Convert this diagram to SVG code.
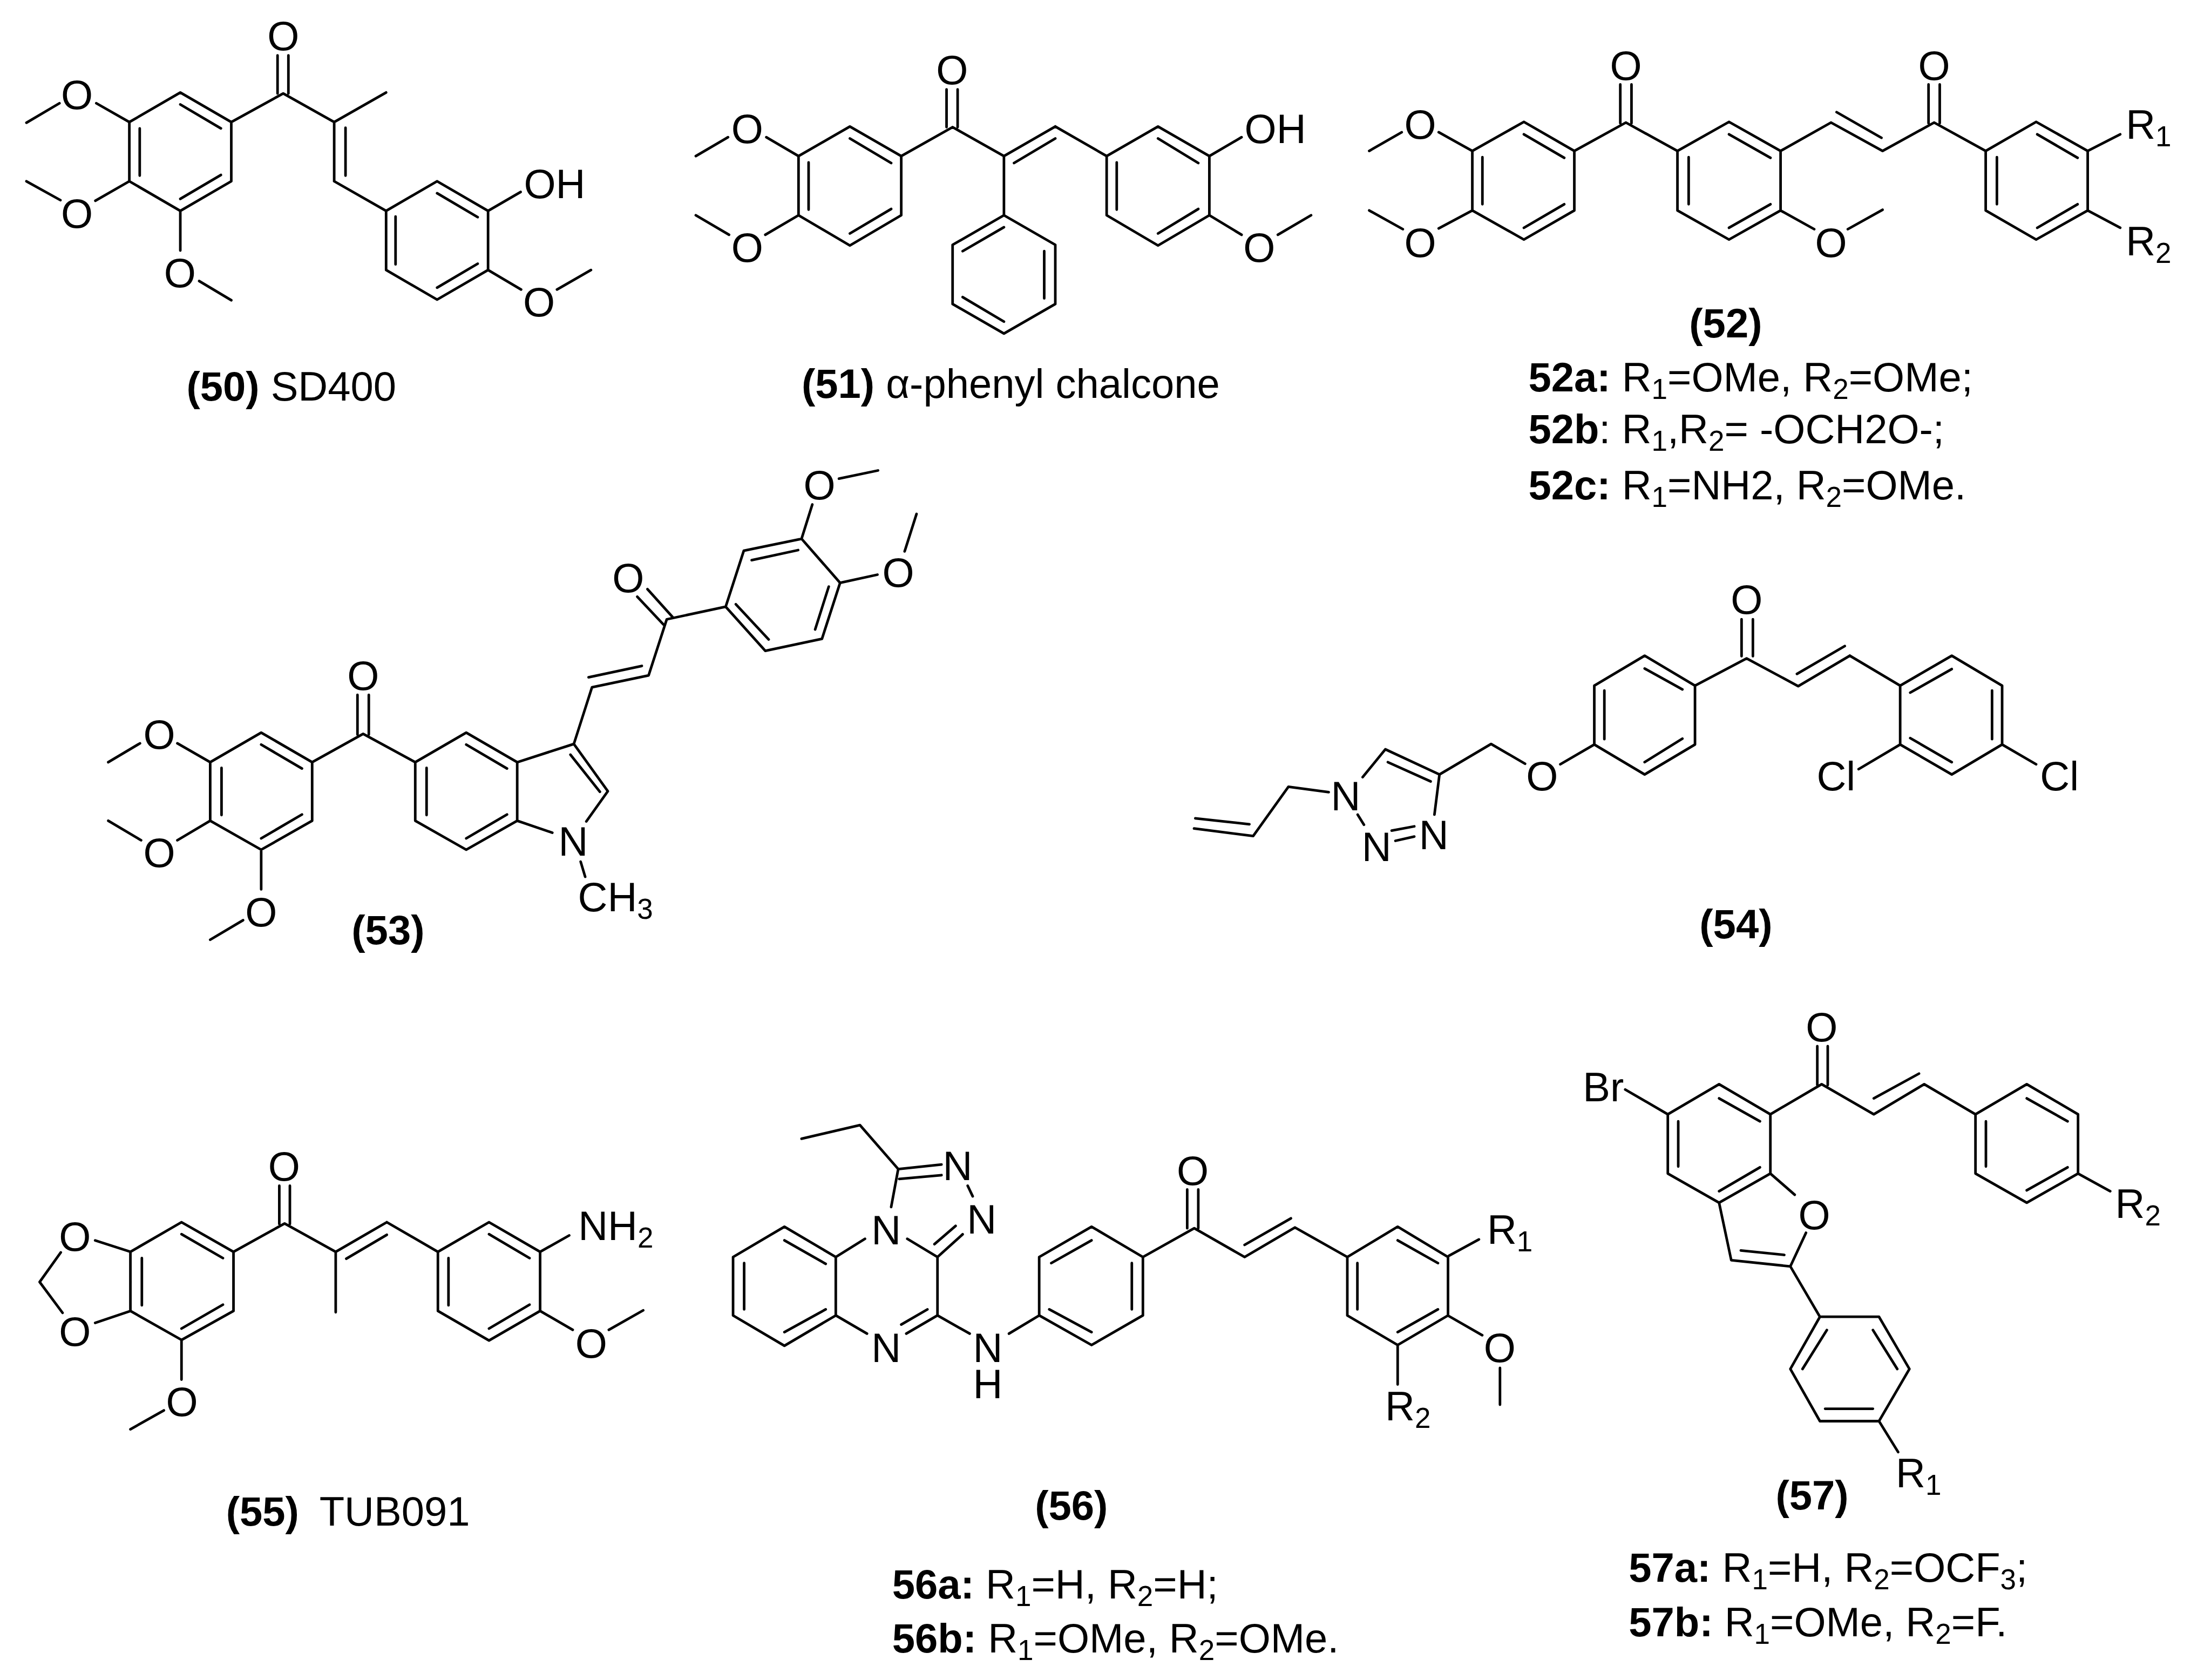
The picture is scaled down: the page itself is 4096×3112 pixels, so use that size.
<svg xmlns="http://www.w3.org/2000/svg" width="4096" height="3112" viewBox="0 0 4096 3112">
<style>
.bonds path{fill:none;stroke:#000;stroke-width:4.8;stroke-linecap:round;stroke-linejoin:round;vector-effect:non-scaling-stroke}
text{font-family:"Liberation Sans",Arial,sans-serif;font-size:76px;fill:#000}
.m{text-anchor:middle}
.bd{font-weight:bold}
.s{font-size:53px}
</style>
<rect width="4096" height="3112" fill="#fff"/>

<g id="compound-50">
<g class="bonds" transform="matrix(.87444 0 0 .58296 0 0)"><path d="M382 294L490 388L490 576L382 670L274 576L274 388ZM382 332L468 408M468 556L382 632M296 408L296 558M490 388L600 297L708 388M588 176L588 297M611 176L611 297M708 388L818 294M708 388L708 576M732 406L732 558M708 576L818 670M818 670L926 576L1034 670L1034 858L926 952L818 858ZM926 614L1012 690M1012 838L926 914M838 688L838 840M1034 670L1103 610M1034 858L1104 920M1180 920L1252 858M274 388L204 328M126 328L56 390M274 576L202 638M128 636L56 576M382 670L382 796M422 893L490 954"/></g>
<text class="m" x="524.7" y="92.5">O</text>
<text class="m" x="142.5" y="202">O</text>
<text class="m" x="142.5" y="422">O</text>
<text class="m" x="333.2" y="531.5">O</text>
<text x="970.4" y="367">OH</text>
<text class="m" x="998.6" y="585.5">O</text>
<text x="345.4" y="741.5"><tspan class="bd">(50)</tspan> SD400</text>
</g>

<g id="compound-51">
<g class="bonds" transform="matrix(.93273 0 0 .58296 1188.3 0)"><path d="M414 402L516 496L516 684L414 780L312 684L312 496ZM414 440L496 518M496 664L414 742M332 516L332 666M516 496L618 404L720 496M606 284L606 404M628 284L628 404M720 496L822 402M740 518L822 440M822 402L924 496M720 496L720 684M720 684L822 778L822 966L720 1060L618 966L618 778ZM720 722L638 798M800 798L800 948M638 944L720 1022M924 496L1026 402L1128 496L1128 684L1026 780L924 684ZM1026 440L1106 518M1106 664L1026 742M944 516L944 666M1128 496L1192 436M1128 684L1192 746M1264 746L1330 684M312 496L248 436M172 436L108 496M312 684L246 746M174 746L108 684"/></g>
<text class="m" x="1763.8" y="155.5">O</text>
<text class="m" x="1384.2" y="265">O</text>
<text class="m" x="1384.2" y="484.5">O</text>
<text x="2305.6" y="265">OH</text>
<text class="m" x="2332.8" y="484.5">O</text>
<text x="1484.9" y="737.4"><tspan class="bd">(51)</tspan> α-phenyl chalcone</text>
</g>

<g id="compound-52">
<g class="bonds" transform="matrix(1.03826 0 0 .64126 2468 0)"><path d="M342 352L432 436L432 608L342 692L250 608L250 436ZM342 388L414 456M414 590L342 658M268 454L268 590M250 436L190 382M124 382L66 436M250 608L190 660M126 662L66 608M432 436L524 354L616 436M514 244L514 356M534 244L534 356M616 436L708 352L800 436L800 608L708 692L616 608ZM708 388L782 456M782 590L708 658M636 454L636 590M800 608L860 662M920 662L982 606M800 436L890 354L982 436L1074 354L1166 436M900 324L980 398M1064 244L1064 356M1084 244L1084 356M1166 436L1256 352L1348 436L1348 608L1256 692L1166 608ZM1258 388L1330 456M1330 590L1258 658M1186 454L1186 590M1348 436L1406 388M1348 608L1406 658"/></g>
<text class="m" x="3012.1" y="148">O</text>
<text class="m" x="3583.1" y="148">O</text>
<text class="m" x="2631" y="256.5">O</text>
<text class="m" x="2631" y="476">O</text>
<text class="m" x="3392" y="476">O</text>
<text x="3938.2" y="256.5">R<tspan class="s" dy="14">1</tspan></text>
<text x="3938.2" y="473.3">R<tspan class="s" dy="14">2</tspan></text>
<text class="m bd" x="3196.9" y="625.2">(52)</text>
<text x="2831.4" y="724.6"><tspan class="bd">52a:</tspan> R<tspan class="s" dy="14">1</tspan><tspan dy="-14">=OMe, R</tspan><tspan class="s" dy="14">2</tspan><tspan dy="-14">=OMe;</tspan></text>
<text x="2831.4" y="820.8"><tspan class="bd">52b</tspan>: R<tspan class="s" dy="14">1</tspan><tspan dy="-14">,R</tspan><tspan class="s" dy="14">2</tspan><tspan dy="-14">= -OCH2O-;</tspan></text>
<text x="2831.4" y="924.7"><tspan class="bd">52c:</tspan> R<tspan class="s" dy="14">1</tspan><tspan dy="-14">=NH2, R</tspan><tspan class="s" dy="14">2</tspan><tspan dy="-14">=OMe.</tspan></text>
</g>

<g id="compound-53">
<g class="bonds" transform="matrix(1.04934 0 0 .58296 91.4 914.08)"><path d="M374 760L464 854L464 1040L374 1132L284 1040L284 854ZM374 798L446 874M446 1020L374 1096M304 872L304 1022M284 854L226 794M160 794L104 854M284 1040L226 1102M162 1102L104 1040M374 1132L374 1258M342 1356L284 1418M464 854L554 764L646 854M544 640L544 766M564 640L564 766M646 854L736 760L826 854L826 1040L736 1132L646 1040ZM736 798L808 874M808 1020L736 1096M666 872L666 1022M826 854L926 796L986 946L948 1042M920 830L972 948M826 1040L888 1078M938 1170L946 1218M926 796L958 616L1058 578L1090 400L1194 360M952 584L1046 548M1038 328L1084 416M1056 304L1100 392M1194 360L1226 182L1328 144L1396 284L1364 462L1264 500ZM1212 352L1270 464M1352 432L1376 296M1240 212L1322 180M1328 144L1347 35M1394 -47L1463 -73M1396 284L1462 258M1510 184L1531 65"/></g>
<text class="m" x="672.7" y="1278">O</text>
<text class="m" x="295" y="1387">O</text>
<text class="m" x="295" y="1605.6">O</text>
<text class="m" x="483.8" y="1716.4">O</text>
<text class="m" x="1163.8" y="1097.3">O</text>
<text class="m" x="1664" y="1087">O</text>
<text class="m" x="1518" y="925">O</text>
<text class="m" x="1062" y="1585.2">N</text>
<text x="1070.5" y="1688.3">CH<tspan class="s" dy="14">3</tspan></text>
<text class="m bd" x="718.9" y="1748.9">(53)</text>
</g>

<g id="compound-54">
<g class="bonds" transform="matrix(1.16592 0 0 .49552 2102.4 1005.5)"><path d="M810 422L890 534L890 754L810 866L730 754L730 534ZM810 470L870 548M870 732L810 820M746 552L746 734M730 754L676 828M620 826L566 752L484 866L398 772L362 876M402 820L470 892M484 866L476 1016M354 1016L364 1054M408 1076L444 1060M414 1114L444 1098M308 932L244 912L188 1096L94 1068M182 1052L96 1030M890 534L972 432L1054 536M964 286L964 424M982 286L982 424M1054 536L1136 422M1052 490L1128 386M1136 422L1216 534M1216 534L1298 422L1378 534L1378 754L1298 866L1216 754ZM1232 560L1298 472M1362 552L1362 734M1232 730L1298 820M1216 754L1150 846M1378 754L1432 828"/></g>
<text class="m" x="3235.7" y="1136.6">O</text>
<text class="m" x="2856.8" y="1463.6">O</text>
<text class="m" x="2493" y="1500.8">N</text>
<text class="m" x="2550.1" y="1594.9">N</text>
<text class="m" x="2656.2" y="1572.6">N</text>
<text x="3365.4" y="1463.6">Cl</text>
<text x="3779.3" y="1463.6">Cl</text>
<text class="m bd" x="3215.9" y="1737.9">(54)</text>
</g>

<g id="compound-55">
<g class="bonds" transform="matrix(.81614 0 0 .58296 0 2011)"><path d="M412 434L530 528L530 716L412 808L296 716L296 528ZM412 472L506 548M506 696L412 772M322 548L322 698M296 528L216 492M138 530L90 624L142 722M296 716L216 754M412 808L412 934M372 1032L296 1092M530 528L646 438L762 528M634 318L634 440M658 318L658 440M762 528L878 434M786 550L878 474M762 528L762 720M878 434L994 528M994 528L1110 434L1226 528L1226 716L1110 810L994 716ZM1110 472L1202 548M1202 696L1110 772M1018 548L1018 698M1226 528L1292 476M1226 716L1300 776M1382 776L1460 714"/></g>
<text class="m" x="526.4" y="2186.7">O</text>
<text class="m" x="138.7" y="2316.7">O</text>
<text class="m" x="138.7" y="2492.7">O</text>
<text class="m" x="337.1" y="2622.7">O</text>
<text x="1071.2" y="2297.4">NH<tspan class="s" dy="14">2</tspan></text>
<text class="m" x="1095.3" y="2514.9">O</text>
<text x="418.7" y="2826" class="bd">(55)</text>
<text x="591.7" y="2826">TUB091</text>
</g>

<g id="compound-56">
<g class="bonds" transform="matrix(.93273 0 0 .70247 1279.7 2011)"><path d="M186 372L288 452L288 606L186 686L84 606L84 452ZM186 408L268 470M268 590L186 650M106 468L106 590M288 452L346 404M430 404L490 452L490 606M490 606L428 654M470 590L418 630M288 606L350 654M490 452L540 392M484 418L526 370M398 320L412 220L498 208M414 246L498 236M550 264L560 292M412 220L336 104L220 140M490 606L554 654M632 654L692 606M692 452L796 372L898 452L898 606L796 684L692 606ZM716 468L796 408M876 468L876 590M796 650L712 590M898 452L1000 376L1100 452L1200 374L1304 452M986 274L986 376M1008 274L1008 376M1100 420L1192 350M1304 452L1404 372L1504 452L1504 606L1404 684L1304 606ZM1404 408L1484 468M1484 590L1404 650M1324 468L1324 590M1404 684L1404 788"/></g>
<g class="bonds"><path d="M2684.3 2326.2L2739.8 2295.9M2684.3 2438L2745.9 2473.3M2778.8 2533.9L2778.8 2602.1"/></g>
<text class="m" x="1641.6" y="2305">N</text>
<text class="m" x="1774" y="2185.5">N</text>
<text class="m" x="1818.8" y="2285.3">N</text>
<text class="m" x="1641.6" y="2522.7">N</text>
<text class="m"><tspan x="1830" y="2522.7">N</tspan><tspan x="1830" y="2590.2">H</tspan></text>
<text class="m" x="2209.6" y="2195.4">O</text>
<text x="2754.9" y="2304.2">R<tspan class="s" dy="14">1</tspan></text>
<text class="m" x="2778.2" y="2523">O</text>
<text x="2566" y="2631">R<tspan class="s" dy="14">2</tspan></text>
<text class="m bd" x="1984.8" y="2815.3">(56)</text>
<text x="1652.8" y="2960.7"><tspan class="bd">56a:</tspan> R<tspan class="s" dy="14">1</tspan><tspan dy="-14">=H, R</tspan><tspan class="s" dy="14">2</tspan><tspan dy="-14">=H;</tspan></text>
<text x="1652.8" y="3061.2"><tspan class="bd">56b:</tspan> R<tspan class="s" dy="14">1</tspan><tspan dy="-14">=OMe, R</tspan><tspan class="s" dy="14">2</tspan><tspan dy="-14">=OMe.</tspan></text>
</g>

<g id="compound-57">
<g class="bonds" transform="matrix(.80506 0 0 .81905 2833.7 1828.2)"><path d="M436 220L554 288L554 422L436 488L318 422L318 288ZM436 252L530 304M530 408L436 462M342 304L342 406M318 288L220 232M554 288L672 220L792 288L908 220L1026 288M662 134L662 222M686 134L686 222M792 252L896 196M1026 288L1144 220L1262 288L1262 422L1144 488L1026 422ZM1144 252L1238 304M1238 408L1144 460M1050 304L1050 406M1262 422L1336 462M554 422L610 470M436 488L464 618L600 632L636 556M486 596L586 606M600 632L668 746M668 746L804 746L874 864L804 982L668 982L600 864ZM684 776L628 864M790 776L846 864M680 954L790 954M804 982L848 1052"/></g>
<text class="m" x="3374.7" y="1929">O</text>
<text class="m" x="3361" y="2277">O</text>
<text x="2932.3" y="2039.5">Br</text>
<text x="3918.5" y="2255.7">R<tspan class="s" dy="14">2</tspan></text>
<text x="3512" y="2755.4">R<tspan class="s" dy="14">1</tspan></text>
<text class="m bd" x="3357" y="2796.3">(57)</text>
<text x="3017.3" y="2929.8"><tspan class="bd">57a:</tspan> R<tspan class="s" dy="14">1</tspan><tspan dy="-14">=H, R</tspan><tspan class="s" dy="14">2</tspan><tspan dy="-14">=OCF</tspan><tspan class="s" dy="14">3</tspan><tspan dy="-14">;</tspan></text>
<text x="3017.3" y="3030.6"><tspan class="bd">57b:</tspan> R<tspan class="s" dy="14">1</tspan><tspan dy="-14">=OMe, R</tspan><tspan class="s" dy="14">2</tspan><tspan dy="-14">=F.</tspan></text>
</g>
</svg>
